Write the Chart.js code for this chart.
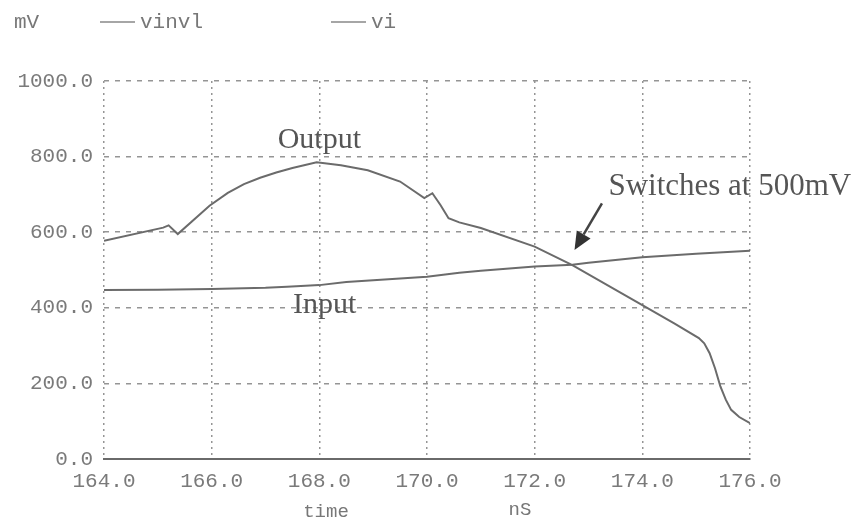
<!DOCTYPE html>
<html>
<head>
<meta charset="utf-8">
<script src="https://cdn.jsdelivr.net/npm/chart.js@4/dist/chart.umd.min.js"></script>
<style>
  html, body { margin: 0; padding: 0; background: #ffffff; }
  #wrap { width: 857px; height: 520px; }
</style>
</head>
<body>
<div id="wrap"><canvas id="c" width="857" height="520"></canvas></div>
<script>
// Output trace (vinvl): time in ns, voltage in mV
const outputTime = [164.0, 165.1, 165.2, 165.37, 165.96, 166.3, 166.6, 166.9, 167.2, 167.5, 167.95, 168.4, 168.9, 169.5, 169.95, 170.1, 170.25, 170.4, 170.6, 171.0, 172.0, 172.7, 174.0, 174.6, 175.05, 175.15, 175.25, 175.35, 175.45, 175.55, 175.65, 175.8, 176.0];
const outputMv   = [577, 612, 618, 595, 670, 704, 727, 744, 758, 770, 785, 777, 764, 734, 690, 703, 672, 637, 626, 611, 562, 513, 407, 358, 320, 306, 280, 240, 192, 157, 130, 111, 95];

// Input trace (vi)
const inputTime = [164.0, 165.0, 166.0, 167.0, 167.4, 168.0, 168.5, 169.0, 170.0, 170.6, 171.0, 172.0, 172.7, 173.0, 174.0, 175.0, 176.0];
const inputMv   = [447, 448, 450, 453, 456, 460, 468, 473, 482, 493, 498, 509, 514, 519, 534, 543, 551];

// Axis ranges and tick steps
const xRange = [164, 176];
const xStep = 2;
const yRange = [0, 1000];
const yStep = 200;

// Text annotations placed in data units (time ns, mV)
const outputNote = { text: 'Output', x: 168.0, y: 823 };
const inputNote  = { text: 'Input', x: 168.1, y: 386 };
const switchNote = { text: 'Switches at 500mV', x: 173.37, y: 698 };
const switchArrow = { from: [173.25, 676], to: [172.74, 553] };

const seriesNames = ['vinvl', 'vi'];
const yUnit = 'mV';
const xTitle = 'time';
const xUnit = 'nS';

const traceColor = '#6b6b6b';
const gridColor = '#959595';
const monoFont = '"Liberation Mono", "DejaVu Sans Mono", monospace';
const serifFont = '"Liberation Serif", "DejaVu Serif", serif';

const toPoints = (xs, ys) => xs.map((x, i) => ({ x, y: ys[i] }));

const decorations = {
  id: 'decorations',
  beforeDraw(chart) {
    const ctx = chart.ctx;
    ctx.save();
    ctx.fillStyle = '#ffffff';
    ctx.fillRect(0, 0, chart.width, chart.height);
    ctx.restore();
  },
  afterDraw(chart) {
    const ctx = chart.ctx;
    const xs = chart.scales.x, ys = chart.scales.y;
    const px = v => xs.getPixelForValue(v);
    const py = v => ys.getPixelForValue(v);
    ctx.save();

    // header: unit and series keys
    ctx.font = '21px ' + monoFont;
    ctx.fillStyle = '#777777';
    ctx.textBaseline = 'middle';
    ctx.textAlign = 'left';
    ctx.fillText(yUnit, 14, 22);
    const keys = [{ x: 100, name: seriesNames[0] }, { x: 331, name: seriesNames[1] }];
    keys.forEach(k => {
      ctx.strokeStyle = '#888888';
      ctx.lineWidth = 1.5;
      ctx.beginPath();
      ctx.moveTo(k.x, 22);
      ctx.lineTo(k.x + 35, 22);
      ctx.stroke();
      ctx.fillText(k.name, k.x + 40, 22);
    });

    // x axis title and unit
    ctx.textAlign = 'center';
    ctx.font = '19px ' + monoFont;
    ctx.fillText(xTitle, 326, 512);
    ctx.fillText(xUnit, 520, 510);

    // trace annotations
    ctx.fillStyle = '#555555';
    ctx.textBaseline = 'alphabetic';
    ctx.font = '30px ' + serifFont;
    ctx.textAlign = 'center';
    ctx.fillText(outputNote.text, px(outputNote.x), py(outputNote.y));
    ctx.fillText(inputNote.text, px(inputNote.x), py(inputNote.y));
    ctx.textAlign = 'left';
    ctx.font = '31px ' + serifFont;
    ctx.fillText(switchNote.text, px(switchNote.x), py(switchNote.y));

    // arrow pointing at the crossing
    const x1 = px(switchArrow.from[0]), y1 = py(switchArrow.from[1]);
    const x2 = px(switchArrow.to[0]), y2 = py(switchArrow.to[1]);
    const ang = Math.atan2(y2 - y1, x2 - x1);
    const headLen = 18, headHalf = 8;
    const bx = x2 - headLen * Math.cos(ang), by = y2 - headLen * Math.sin(ang);
    ctx.strokeStyle = '#444444';
    ctx.lineWidth = 2.5;
    ctx.beginPath();
    ctx.moveTo(x1, y1);
    ctx.lineTo(bx, by);
    ctx.stroke();
    ctx.fillStyle = '#333333';
    ctx.beginPath();
    ctx.moveTo(x2, y2);
    ctx.lineTo(bx + headHalf * Math.sin(ang), by - headHalf * Math.cos(ang));
    ctx.lineTo(bx - headHalf * Math.sin(ang), by + headHalf * Math.cos(ang));
    ctx.closePath();
    ctx.fill();

    ctx.restore();
  }
};

new Chart(document.getElementById('c'), {
  type: 'line',
  data: {
    datasets: [
      {
        label: seriesNames[0],
        data: toPoints(outputTime, outputMv),
        borderColor: traceColor,
        borderWidth: 2,
        pointRadius: 0,
        tension: 0
      },
      {
        label: seriesNames[1],
        data: toPoints(inputTime, inputMv),
        borderColor: traceColor,
        borderWidth: 2,
        pointRadius: 0,
        tension: 0
      }
    ]
  },
  options: {
    responsive: false,
    devicePixelRatio: 1,
    animation: false,
    layout: { padding: { top: 81, right: 107, left: 0, bottom: 0 } },
    plugins: {
      legend: { display: false },
      tooltip: { enabled: false }
    },
    scales: {
      x: {
        type: 'linear',
        min: xRange[0],
        max: xRange[1],
        ticks: {
          stepSize: xStep,
          autoSkip: false,
          maxRotation: 0,
          padding: 10,
          color: '#7a7a7a',
          font: { family: monoFont, size: 21 },
          callback: v => Number(v).toFixed(1)
        },
        grid: { color: gridColor, lineWidth: 1.5, drawTicks: false },
        border: { display: true, color: '#6a6a6a', width: 2, dash: [2, 4] },
        afterFit(s) { s.height = 61; }
      },
      y: {
        min: yRange[0],
        max: yRange[1],
        ticks: {
          stepSize: yStep,
          padding: 11,
          color: '#7a7a7a',
          font: { family: monoFont, size: 21 },
          callback: v => Number(v).toFixed(1)
        },
        grid: { color: gridColor, lineWidth: 1.5, drawTicks: false },
        border: { display: false, dash: [5, 6] },
        afterFit(s) { s.width = 104; }
      }
    }
  },
  plugins: [decorations]
});
</script>
</body>
</html>
